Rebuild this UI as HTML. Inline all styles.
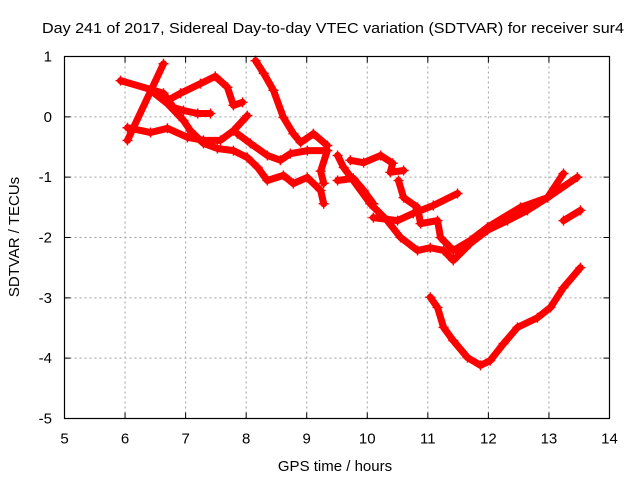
<!DOCTYPE html>
<html><head><meta charset="utf-8"><style>
body{margin:0;background:#fff}
svg{display:block;font-family:"Liberation Sans",sans-serif}
</style></head><body>
<svg id="chart" width="640" height="480" viewBox="0 0 640 480">
<rect width="640" height="480" fill="#fff"/>
<text x="333" y="33" font-size="15" text-anchor="middle" textLength="582" lengthAdjust="spacingAndGlyphs">Day 241 of 2017, Sidereal Day-to-day VTEC variation (SDTVAR) for receiver sur4</text>
<text x="335" y="471" font-size="15" text-anchor="middle">GPS time / hours</text>
<text transform="translate(19,237) rotate(-90)" font-size="15" text-anchor="middle">SDTVAR / TECUs</text>
<g id="grid"></g>
<g id="ticks"></g>
<g id="series"></g>
<rect x="64.5" y="56.5" width="545" height="362" fill="none" stroke="#000" stroke-width="1.2"/>
</svg>
<script>
const xTicks=[5,6,7,8,9,10,11,12,13,14];
const yTicks=[1,0,-1,-2,-3,-4,-5];
const s1x=[5.925,6.47,6.635,6.80,6.965,7.20,7.41];
const s1y=[0.60,0.44,0.39,0.155,0.105,0.055,0.055];
const s2x=[6.04,6.635];
const s2y=[-0.39,0.88];
const s3x=[6.04,6.42,6.70,7.03,7.295,7.575,7.79,8.02];
const s3y=[-0.18,-0.26,-0.19,-0.34,-0.39,-0.39,-0.23,0.02];
const s4x=[6.70,6.915,7.245,7.49,7.69,7.79,7.94];
const s4y=[0.27,0.39,0.55,0.67,0.49,0.19,0.24];
const s5x=[6.42,6.70,6.965,7.08,7.295,7.525,7.79,8.02,8.19,8.35,8.615,8.78,9.01,9.23,9.28];
const s5y=[0.44,0.22,-0.06,-0.23,-0.44,-0.525,-0.56,-0.675,-0.84,-1.055,-0.97,-1.105,-1.005,-1.22,-1.44];
const s6x=[7.855,8.07,8.35,8.565,8.73,9.01,9.34,9.23,9.28];
const s6y=[-0.28,-0.44,-0.64,-0.72,-0.61,-0.56,-0.56,-0.9,-1.1];
const s7x=[8.155,8.29,8.45,8.615,8.78,8.90,9.11,9.34];
const s7y=[0.93,0.72,0.44,-0.01,-0.28,-0.425,-0.28,-0.475];
const s8x=[9.51,9.61,9.77,10.05,10.33,10.55,10.83,11.04,11.26,11.42,11.70,11.985,12.315,12.645,12.975,13.24];
const s8y=[-0.64,-0.84,-1.055,-1.44,-1.72,-2.0,-2.215,-2.17,-2.215,-2.38,-2.10,-1.88,-1.72,-1.55,-1.34,-0.94];
const s9x=[9.51,9.77,9.94,10.10];
const s9y=[-1.055,-1.02,-1.22,-1.44];
const s10x=[9.72,9.94,10.22,10.42,10.38,10.60];
const s10y=[-0.72,-0.76,-0.64,-0.77,-0.92,-0.89];
const s11x=[10.515,10.60,10.83,10.88,11.16,11.21,11.42,11.70,11.985,12.53,12.975,13.47];
const s11y=[-1.055,-1.34,-1.50,-1.77,-1.72,-2.0,-2.215,-2.05,-1.83,-1.50,-1.34,-1.0];
const s12x=[10.10,10.50,10.76,11.09,11.49];
const s12y=[-1.67,-1.72,-1.60,-1.47,-1.27];
const s13x=[13.24,13.52];
const s13y=[-1.72,-1.55];
const s14x=[11.04,11.16,11.26,11.42,11.655,11.87,12.03,12.25,12.48,12.81,13.025,13.24,13.52];
const s14y=[-2.99,-3.16,-3.49,-3.71,-3.99,-4.12,-4.04,-3.76,-3.49,-3.33,-3.16,-2.83,-2.50];
const seriesX=[s1x,s2x,s3x,s4x,s5x,s6x,s7x,s8x,s9x,s10x,s11x,s12x,s13x,s14x];
const seriesY=[s1y,s2y,s3y,s4y,s5y,s6y,s7y,s8y,s9y,s10y,s11y,s12y,s13y,s14y];
const NS="http://www.w3.org/2000/svg";
const L=64.5,R=609.5,T=56.5,B=418.5;
const xs=v=>L+(v-5)/9*(R-L);
const ys=v=>T+(1-v)/6*(B-T);
const grid=document.getElementById('grid'),ticks=document.getElementById('ticks'),ser=document.getElementById('series');
function mk(tag,attrs,parent){const e=document.createElementNS(NS,tag);for(const k in attrs)e.setAttribute(k,attrs[k]);parent.appendChild(e);return e;}
xTicks.forEach(t=>{const x=xs(t);
 if(t>5&&t<14){const g=mk('line',{x1:x,x2:x,y1:T,y2:B,stroke:'#a0a0a0','stroke-dasharray':'2,3'},grid);
 
 }
 const tk=mk('path',{d:`M${x},${B}v-6M${x},${T}v6`,stroke:'#000'},ticks);
 
 
 const lb=mk('text',{x:x,y:B+25,'font-size':15,'text-anchor':'middle'},ticks);lb.textContent=t;
 
 });
yTicks.forEach(t=>{const y=ys(t);
 if(t>-5&&t<1){const g=mk('line',{x1:L,x2:R,y1:y,y2:y,stroke:'#a0a0a0','stroke-dasharray':'2,3'},grid);
 
 }
 const tk=mk('path',{d:`M${L},${y}h6M${R},${y}h-6`,stroke:'#000'},ticks);
 
 
 const lb=mk('text',{x:52,y:y+5,'font-size':15,'text-anchor':'end'},ticks);lb.textContent=t;
 
 });
seriesX.forEach((sx,i)=>{const sy=seriesY[i];
 const pts=sx.map((v,j)=>xs(v)+','+ys(sy[j])).join(' ');
 const pl=mk('polyline',{points:pts,fill:'none',stroke:'#ff0000','stroke-width':7,'stroke-linejoin':'round','stroke-linecap':'round'},ser);
 
 
 sx.forEach((v,j)=>{const x=xs(v),y=ys(sy[j]);
  const m=mk('path',{d:`M${x-5},${y}h10M${x},${y-5}v10`,stroke:'#ff0000','stroke-width':1.5},ser);
  
  });
});
</script>
</body></html>
